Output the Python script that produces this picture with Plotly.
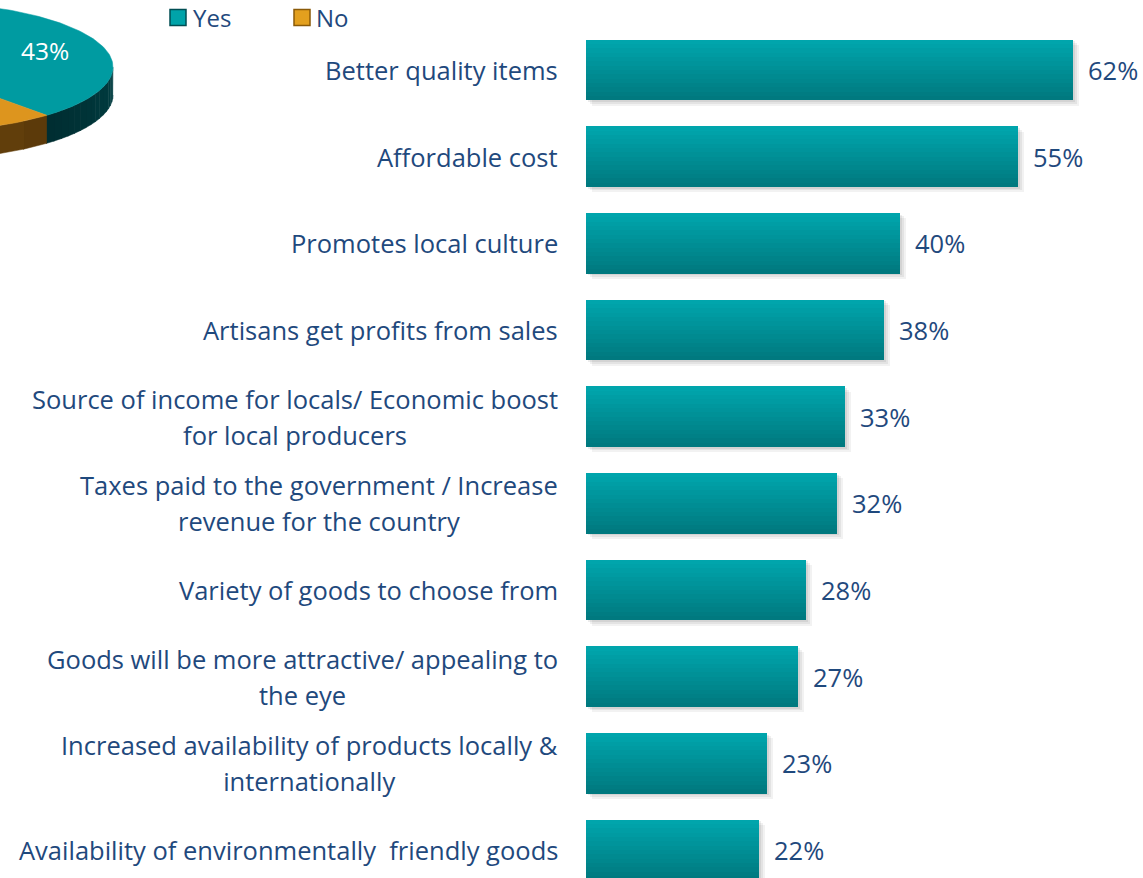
import numpy as np
import plotly.graph_objects as go

# ---- data -------------------------------------------------------------
categories = [
    "Better quality items",
    "Affordable cost",
    "Promotes local culture",
    "Artisans get profits from sales",
    "Source of income for locals/ Economic boost<br>for local producers",
    "Taxes paid to the government / Increase<br>revenue for the country",
    "Variety of goods to choose from",
    "Goods will be more attractive/ appealing to<br>the eye",
    "Increased availability of products locally &<br>internationally",
    "Availability of environmentally\u00a0 friendly goods",
]
values = [62, 55, 40, 38, 33, 32, 28, 27, 23, 22]

pie_labels = ["Yes", "No"]
pie_values = [43, 57]

# ---- layout constants -------------------------------------------------
W, H = 1143, 878
FONT = "Open Sans"
FS = 25.5
TEXT_COLOR = "#1F497D"
BAR_X0 = 586          # left edge of bars (px)
PX_PER_PCT = 7.855    # horizontal scale (px per percent)
ROW0 = 70             # centre of first row (px)
ROW_STEP = 86.67      # row pitch (px)
BAR_W = 0.70          # bar thickness in row units
LABEL_RIGHT = 560     # right edge of category labels (px)

ys = list(range(len(values)))

fig = go.Figure()

# soft drop shadow under each bar
for k, (dy, alpha) in enumerate([(0.020, 0.07), (0.040, 0.06), (0.060, 0.05)]):
    fig.add_trace(go.Bar(
        x=values, y=ys, orientation="h", base=0.25 * (k + 1),
        width=BAR_W, offset=-BAR_W / 2 + dy,
        marker=dict(color=f"rgba(0,0,0,{alpha})", line=dict(width=0)),
        hoverinfo="skip", showlegend=False,
    ))

# vertical teal gradient built from stacked overlay bars sharing the top edge
top_rgb = np.array([0, 165, 172])
bot_rgb = np.array([0, 121, 127])
N = 14
for k in range(N):
    frac = k / (N - 1)
    c = bot_rgb + (top_rgb - bot_rgb) * frac
    fig.add_trace(go.Bar(
        x=values, y=ys, orientation="h",
        width=BAR_W * (1 - k / N), offset=-BAR_W / 2,
        marker=dict(color=f"rgb({c[0]:.0f},{c[1]:.0f},{c[2]:.0f})", line=dict(width=0)),
        hoverinfo="skip", showlegend=False,
    ))

# ---- 3D pie (top-left, partly off the canvas) --------------------------
cx, cy, ra, rb, depth = -87.0, 67.0, 200.0, 65.0, 28.0
start_deg = 48.0
total = sum(pie_values)
yes_span = 360.0 * pie_values[0] / total
yes_rng = (start_deg - yes_span, start_deg)
no_rng = (start_deg, start_deg + 360.0 * pie_values[1] / total)


def arc(t0, t1, n=120):
    t = np.radians(np.linspace(t0, t1, n))
    return cx + ra * np.cos(t), cy + rb * np.sin(t)


def add_poly(xs, ys_, color):
    fig.add_trace(go.Scatter(
        x=list(xs), y=list(ys_), mode="lines", fill="toself",
        fillcolor=color, line=dict(width=0.5, color=color),
        xaxis="x2", yaxis="y2", hoverinfo="skip", showlegend=False,
    ))


def add_side(t0, t1, c0, c1, strips=16):
    lo, hi = max(t0, 0.0), min(t1, 180.0)
    if hi <= lo:
        return
    edges = np.linspace(lo, hi, strips + 1)
    c0, c1 = np.array(c0), np.array(c1)
    for i in range(strips):
        f = i / max(strips - 1, 1)
        c = c0 + (c1 - c0) * f
        ax_, ay_ = arc(edges[i], edges[i + 1] + 0.3, 20)
        xs = np.concatenate([ax_, ax_[::-1]])
        yv = np.concatenate([ay_, ay_[::-1] + depth])
        add_poly(xs, yv, f"rgb({c[0]:.0f},{c[1]:.0f},{c[2]:.0f})")


# sides (front half only)
add_side(yes_rng[0], yes_rng[1], (0, 62, 66), (0, 46, 50))
add_side(no_rng[0], no_rng[1], (92, 58, 10), (170, 112, 30))

# top faces
for (t0, t1), col in [(yes_rng, "#009BA1"), (no_rng, "#DD951E")]:
    ax_, ay_ = arc(t0, t1)
    add_poly(np.concatenate([[cx], ax_, [cx]]), np.concatenate([[cy], ay_, [cy]]), col)

# legend swatches
fig.add_trace(go.Scatter(
    x=[178, 302], y=[17.5, 17.5], mode="markers",
    marker=dict(symbol="square", size=16, color=["#00A3A9", "#E3A01E"],
                line=dict(width=1.5, color=["#004E53", "#8A5A08"])),
    xaxis="x2", yaxis="y2", hoverinfo="skip", showlegend=False,
))

annotations = []

# category labels (line spacing widened via outer font size)
for i, lab in enumerate(categories):
    lines = lab.split("<br>")
    txt = "<br>".join(f"<span style='font-size:{FS}px'>{ln}</span>" for ln in lines)
    annotations.append(dict(
        text=txt, x=LABEL_RIGHT / W, xref="paper", xanchor="right",
        y=i, yref="y", yanchor="middle", align="center", showarrow=False,
        font=dict(family=FONT, size=27.7, color=TEXT_COLOR),
    ))

# value labels
for i, v in enumerate(values):
    annotations.append(dict(
        text=f"{v}%", x=v, xref="x", xanchor="left", xshift=13,
        y=i, yref="y", yanchor="middle", showarrow=False,
        font=dict(family=FONT, size=FS, color=TEXT_COLOR),
    ))

# pie value label and legend text
annotations.append(dict(
    text=f"{pie_values[0]}%", x=45, y=50, xref="x2", yref="y2",
    xanchor="center", yanchor="middle", showarrow=False,
    font=dict(family=FONT, size=24.5, color="white"),
))
for xpos, name in zip([191, 314], pie_labels):
    annotations.append(dict(
        text=name, x=xpos, y=17, xref="x2", yref="y2",
        xanchor="left", yanchor="middle", showarrow=False,
        font=dict(family=FONT, size=24, color=TEXT_COLOR),
    ))

fig.update_layout(
    width=W, height=H,
    margin=dict(l=0, r=0, t=0, b=0),
    paper_bgcolor="white", plot_bgcolor="rgba(0,0,0,0)",
    barmode="overlay", bargap=0,
    showlegend=False,
    xaxis=dict(domain=[BAR_X0 / W, 1], range=[0, (W - BAR_X0) / PX_PER_PCT],
               visible=False, fixedrange=True),
    yaxis=dict(domain=[0, 1], range=[(H - ROW0) / ROW_STEP, -ROW0 / ROW_STEP],
               visible=False, fixedrange=True),
    xaxis2=dict(domain=[0, 1], range=[0, W], visible=False, anchor="y2", fixedrange=True),
    yaxis2=dict(domain=[0, 1], range=[H, 0], visible=False, anchor="x2", fixedrange=True),
    annotations=annotations,
)

fig.write_html("out.html", config={"displayModeBar": False})
